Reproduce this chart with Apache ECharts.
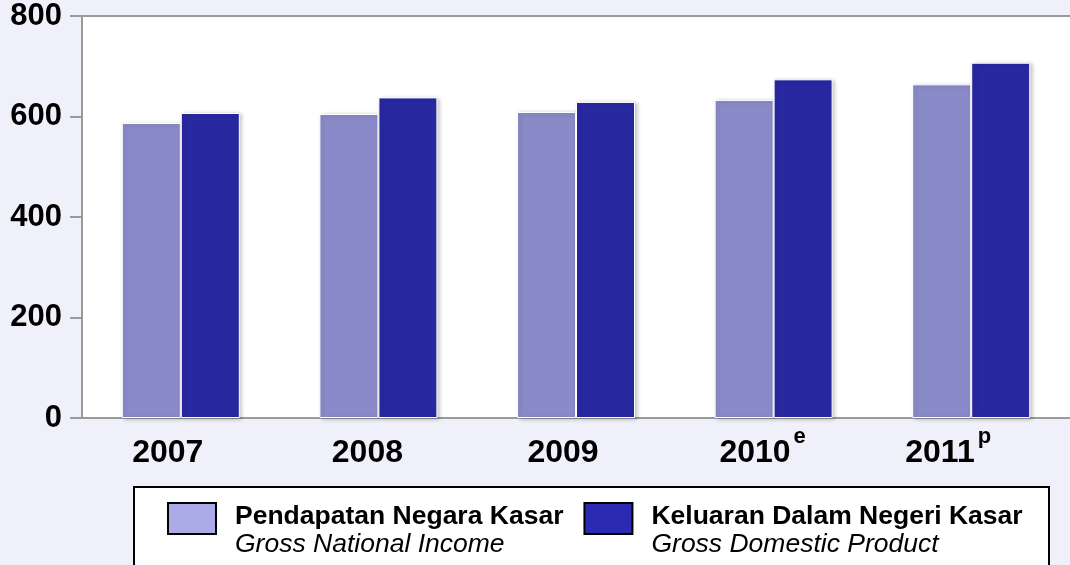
<!DOCTYPE html>
<html><head>
<meta http-equiv="Content-Type" content="text/html; charset=UTF-8">
<title>PNK / KDNK</title>
<script src="https://cdn.jsdelivr.net/npm/echarts@6/dist/echarts.min.js"></script>
<style>
html,body{margin:0;padding:0;background:#f0f0fa;}
#chartDiv{width:1070px;height:565px;}
</style>
</head>
<body>
<div id="chartDiv"></div>
<script>
// data
var years = ['2007', '2008', '2009', '2010', '2011'];
var yearSup = ['', '', '', 'e', 'p'];
var gni = [587, 605, 609, 633, 664];   // Pendapatan Negara Kasar
var gdp = [607, 638, 629, 674, 707];   // Keluaran Dalam Negeri Kasar
var yTicks = [0, 200, 400, 600, 800];
var seriesNames = ['Pendapatan Negara Kasar', 'Keluaran Dalam Negeri Kasar'];
var seriesNamesEn = ['Gross National Income', 'Gross Domestic Product'];

// layout: how far each year label sits left of its category centre (px)
var labelNudge = [13, 11, 13, 11, 23];

var fontFam = '"Liberation Sans", Arial, sans-serif';
var axisGray = '#9a9a9a';

var cats = [];
for (var i = 0; i < years.length; i++) {
    cats.push(years[i] + '|' + yearSup[i]);
}

var xRich = {
    y: {fontFamily: fontFam, fontSize: 32, fontWeight: 'bold', color: '#000', lineHeight: 54},
    s: {fontFamily: fontFam, fontSize: 22, fontWeight: 'bold', color: '#000', verticalAlign: 'top', lineHeight: 8, padding: [0, 0, 0, 3]}
};
for (var j = 0; j < labelNudge.length; j++) {
    xRich['g' + j] = {width: labelNudge[j] * 2, lineHeight: 8};
}

var barStyle = function (c) {
    return {color: c, borderColor: '#fff', borderWidth: 1,
        shadowColor: 'rgba(0,0,0,0.22)', shadowBlur: 4, shadowOffsetX: 2, shadowOffsetY: 1};
};

var option = {
    backgroundColor: '#f0f0fa',
    animation: false,
    textStyle: {fontFamily: fontFam},
    grid: {left: 82, right: 0, top: 16, bottom: 147, show: true, backgroundColor: '#fff', borderWidth: 0},
    graphic: [{
        type: 'rect', left: 133, top: 486, z: 0,
        shape: {width: 915, height: 100},
        style: {fill: '#fff', stroke: '#000', lineWidth: 2}
    }],
    legend: {
        left: 167, top: 502, z: 5, padding: 0,
        itemWidth: 48, itemHeight: 31, itemGap: 20,
        itemStyle: {borderColor: '#000', borderWidth: 2},
        data: [
            {name: seriesNames[0], icon: 'rect', itemStyle: {color: '#ababe8'}},
            {name: seriesNames[1], icon: 'rect', itemStyle: {color: '#2a2ab2'}}
        ],
        formatter: function (n) {
            var k = seriesNames.indexOf(n);
            return '{b|' + n + '}\n{i|' + seriesNamesEn[k] + '}';
        },
        textStyle: {
            padding: [24, 0, 0, 14],
            rich: {
                b: {fontFamily: fontFam, fontSize: 26.5, fontWeight: 'bold', color: '#000', lineHeight: 28},
                i: {fontFamily: fontFam, fontSize: 26.5, fontStyle: 'italic', color: '#000', lineHeight: 28}
            }
        }
    },
    xAxis: [{
        type: 'category', data: cats,
        axisLine: {lineStyle: {color: axisGray, width: 2}},
        axisTick: {show: false},
        axisLabel: {
            margin: 8,
            formatter: function (v, idx) {
                var p = v.split('|');
                return '{y|' + p[0] + '}' + (p[1] ? '{s|' + p[1] + '}' : '') + '{g' + idx + '| }';
            },
            rich: xRich
        }
    }, {
        // top border line of the plot
        type: 'category', position: 'top', data: cats,
        axisLine: {lineStyle: {color: axisGray, width: 2}},
        axisTick: {show: false}, axisLabel: {show: false}
    }],
    yAxis: [{
        type: 'value', min: yTicks[0], max: yTicks[yTicks.length - 1], interval: 200,
        axisLine: {show: true, lineStyle: {color: axisGray, width: 2}},
        axisTick: {show: true, length: 12, lineStyle: {color: axisGray, width: 2}},
        splitLine: {show: false},
        axisLabel: {margin: 20, fontFamily: fontFam, fontSize: 31, fontWeight: 'bold', color: '#000'}
    }],
    series: [
        {name: seriesNames[0], type: 'bar', data: gni, barWidth: 59, barGap: '0%', itemStyle: barStyle('#8a8ac8')},
        {name: seriesNames[1], type: 'bar', data: gdp, barWidth: 59, barGap: '0%', itemStyle: barStyle('#2828a0')}
    ]
};

var chart = echarts.init(document.getElementById('chartDiv'));
chart.setOption(option);
</script>
</body></html>
